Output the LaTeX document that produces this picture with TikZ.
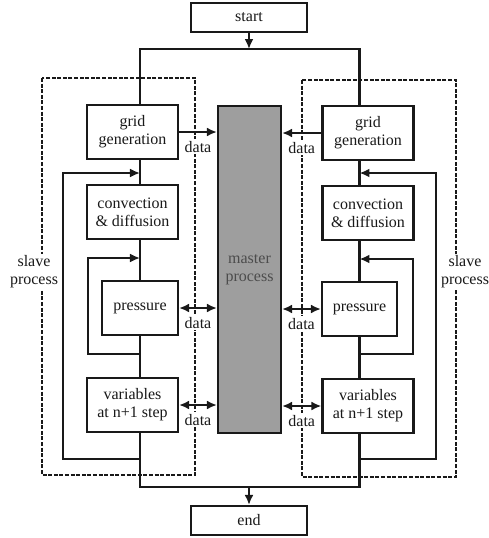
\documentclass[tikz,border=0pt]{standalone}
\usepackage{fontspec}
\setmainfont{Liberation Serif}
\usetikzlibrary{arrows.meta}

\begin{document}
\begin{tikzpicture}[
x=0.5pt, y=-0.5pt,
font=\fontsize{8}{9}\selectfont,
line width=1.1pt, color=black!90,
box/.style={rectangle, draw, fill=white, minimum width=45.5pt, minimum height=27pt, align=center, inner sep=1pt},
endbox/.style={box, minimum width=58pt, minimum height=14.5pt},
master/.style={rectangle, draw, fill=black!38, text=black!70, minimum width=31.5pt, minimum height=163.5pt, align=center},
arrow/.style={-{Latex[length=5pt,width=4.5pt]}},
twoway/.style={{Latex[length=5pt,width=4.5pt]}-{Latex[length=5pt,width=4.5pt]}},
slave/.style={draw, dash pattern=on 2pt off 0.8pt},
tag/.style={fill=white, inner sep=1pt, align=center}
]
\useasboundingbox (0,0) rectangle (489,538);

% --- Zones esclaves (pointilles) ---
\draw[slave] (42,78) rectangle (195,475);
\draw[slave] (302,80) rectangle (456,477);
\node[tag] (slaveL) at (34,272) {slave\\process};
\node[tag] (slaveR) at (465,272) {slave\\process};

% --- Debut, fin et maitre ---
\node[endbox] (start) at (249,17.5) {start};
\node[endbox] (finish) at (249,520.5) {end};
\node[master] (master) at (249.5,269.5) {master\\process};

% --- Colonne gauche ---
\node[box] (gridL) at (132.5,132) {grid\\generation};
\node[box] (convL) at (132.5,212) {convection\\\& diffusion};
\node[box, minimum width=38pt] (presL) at (140,308) {pressure};
\node[box] (varL) at (132.5,405) {variables\\at n+1 step};

% --- Colonne droite ---
\node[box] (gridR) at (368,133) {grid\\generation};
\node[box] (convR) at (368,213) {convection\\\& diffusion};
\node[box, minimum width=37.5pt] (presR) at (359.5,309) {pressure};
\node[box] (varR) at (368,406) {variables\\at n+1 step};

% --- Points de liaison ---
\coordinate (split) at (249,49);
\coordinate (join) at (249,487);
\coordinate (oLb) at (63,459);
\coordinate (oLt) at (63,173);
\coordinate (iLb) at (88,354);
\coordinate (iLt) at (88,258);
\coordinate (oRb) at (436,459);
\coordinate (oRt) at (436,173);
\coordinate (iRb) at (413,354);
\coordinate (iRt) at (413,259);

% --- Flux principal ---
\draw[arrow] (start) -- (split);
\draw (gridL.north -| presL) -- (split -| presL) -- (split -| presR) -- (gridR.north -| presR);
\draw (gridL.south -| presL) -- (convL.north -| presL);
\draw (convL.south -| presL) -- (presL.north);
\draw (presL.south) -- (varL.north -| presL);
\draw (gridR.south -| presR) -- (convR.north -| presR);
\draw (convR.south -| presR) -- (presR.north);
\draw (presR.south) -- (varR.north -| presR);
\draw (varL.south -| presL) -- (join -| presL) -- (join -| presR) -- (varR.south -| presR);
\draw[arrow] (join) -- (finish);

% --- Boucles ---
\draw[arrow] (oLb -| presL) -- (oLb) -- (oLt) -- (oLt -| presL);
\draw[arrow] (iLb -| presL) -- (iLb) -- (iLt) -- (iLt -| presL);
\draw[arrow] (oRb -| presR) -- (oRb) -- (oRt) -- (oRt -| presR);
\draw[arrow] (iRb -| presR) -- (iRb) -- (iRt) -- (iRt -| presR);

% --- Echanges de donnees ---
\draw[arrow] (gridL.east) -- (gridL.east -| master.west) node[tag, midway, below=3pt] (dataL1) {data};
\draw[arrow] (gridR.west) -- (gridR.west -| master.east) node[tag, midway, below=3pt] (dataR1) {data};
\draw[twoway] (presL.east) -- (presL.east -| master.west) node[tag, midway, below=3pt] (dataL2) {data};
\draw[twoway] (presR.west) -- (presR.west -| master.east) node[tag, midway, below=3pt] (dataR2) {data};
\draw[twoway] (varL.east) -- (varL.east -| master.west) node[tag, midway, below=3pt] (dataL3) {data};
\draw[twoway] (varR.west) -- (varR.west -| master.east) node[tag, midway, below=3pt] (dataR3) {data};

\end{tikzpicture}
\end{document}
